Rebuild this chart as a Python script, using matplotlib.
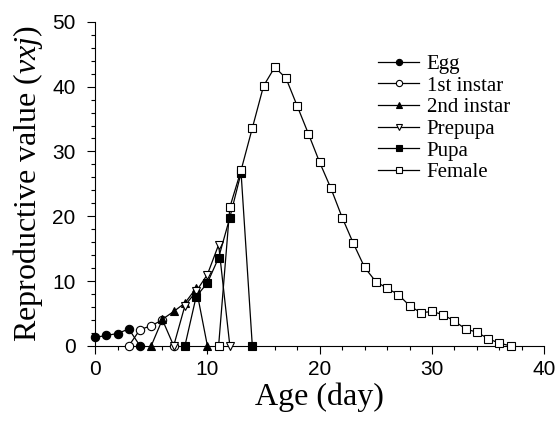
import matplotlib
matplotlib.use('Agg')
import matplotlib.pyplot as plt
from matplotlib.ticker import MultipleLocator

# stage-specific reproductive values
egg_age = [0, 1, 2, 3, 4]
egg_v = [1.3, 1.6, 1.9, 2.6, 0]

instar1_age = [3, 4, 5, 6, 7]
instar1_v = [0, 2.5, 3.1, 4.0, 0]

instar2_age = [5, 6, 7, 8, 9, 10]
instar2_v = [0, 4.1, 5.3, 6.6, 8.9, 0]

prepupa_age = [7, 8, 9, 10, 11, 12]
prepupa_v = [0, 6.2, 8.4, 11.0, 15.6, 0]

pupa_age = [8, 9, 10, 11, 12, 13, 14]
pupa_v = [0, 7.6, 9.7, 13.6, 19.8, 26.7, 0]

female_age = list(range(11, 38))
female_v = [0, 21.4, 27.1, 33.6, 40.1, 43.0, 41.3, 37.0, 32.7, 28.3, 24.3,
            19.8, 15.8, 12.1, 9.9, 8.9, 7.9, 6.2, 5.1, 5.3, 4.8, 3.8, 2.6,
            2.1, 1.1, 0.4, 0]

plt.rcParams['mathtext.fontset'] = 'custom'
plt.rcParams['mathtext.rm'] = 'Liberation Serif'
plt.rcParams['mathtext.it'] = 'Liberation Serif:italic'

fig = plt.figure(figsize=(5.56, 4.28), dpi=100)
ax = fig.add_axes([0.171, 0.192, 0.808, 0.757])

series = [
    (egg_age, egg_v, 'o', 'black', 'Egg'),
    (instar1_age, instar1_v, 'o', 'white', '1st instar'),
    (instar2_age, instar2_v, '^', 'black', '2nd instar'),
    (prepupa_age, prepupa_v, 'v', 'white', 'Prepupa'),
    (pupa_age, pupa_v, 's', 'black', 'Pupa'),
    (female_age, female_v, 's', 'white', 'Female'),
]
for xs, ys, m, fc, lab in series:
    ax.plot(xs, ys, color='black', lw=0.9, marker=m, ms=6,
            mfc=fc, mec='black', mew=0.8, label=lab, clip_on=False, zorder=3)

ax.set_xlim(0, 40)
ax.set_ylim(0, 50)
ax.xaxis.set_major_locator(MultipleLocator(10))
ax.xaxis.set_minor_locator(MultipleLocator(2))
ax.yaxis.set_major_locator(MultipleLocator(10))
ax.yaxis.set_minor_locator(MultipleLocator(2))
ax.tick_params(which='major', direction='out', length=6, width=0.8,
               labelsize=15)
ax.tick_params(axis='x', which='major', pad=4)
ax.tick_params(axis='y', which='major', pad=8)
ax.tick_params(which='minor', direction='out', length=3, width=0.8)
for lbl in ax.get_xticklabels() + ax.get_yticklabels():
    lbl.set_family('Liberation Sans')

ax.spines['top'].set_visible(False)
ax.spines['right'].set_visible(False)

ax.set_xlabel('Age (day)', family='Liberation Serif', fontsize=23, labelpad=3)
ax.set_ylabel('Reproductive value ($vxj$)', family='Liberation Serif',
              fontsize=23, labelpad=5)

ax.legend(loc='upper left', bbox_to_anchor=(0.606, 0.932), frameon=False,
          prop={'family': 'Liberation Serif', 'size': 15}, borderpad=0,
          handlelength=2.0, handletextpad=0.35, labelspacing=0.1,
          markerscale=0.75)

fig.savefig('out.png', dpi=100)
